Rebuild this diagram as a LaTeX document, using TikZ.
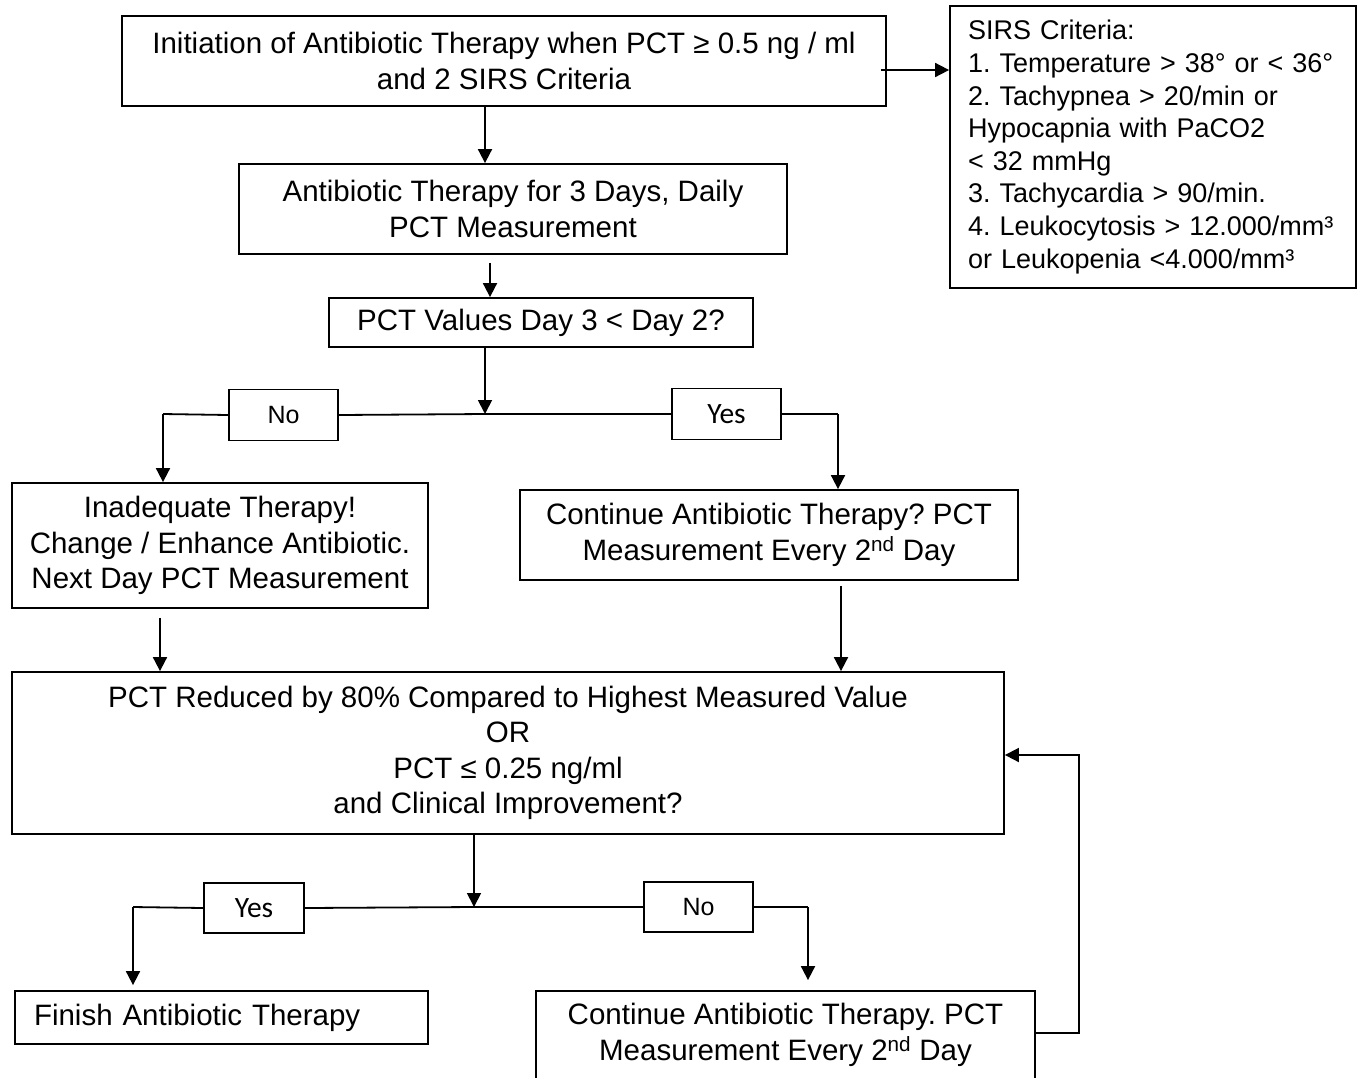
\documentclass[tikz,border=0pt]{standalone}
\usepackage{fontspec}
\setmainfont{Liberation Sans}
\newfontfamily\ynfont{Carlito}
\usetikzlibrary{arrows.meta}
\frenchspacing
\begin{document}
\begin{tikzpicture}[x=1pt,y=-1pt,
  box/.style={draw, line width=1.8pt, inner sep=0pt, align=center, font=\fontsize{29.5}{35.5}\selectfont},
  lab/.style={draw, line width=1.8pt, inner sep=0pt, font=\ynfont\fontsize{29.5}{30}\selectfont},
  labno/.style={draw, line width=1.8pt, inner sep=0pt, font=\fontsize{25}{30}\selectfont},
  arr/.style={line width=1.8pt, -{Triangle[width=14pt,length=14pt]}},
  ln/.style={line width=1.8pt}]
\useasboundingbox (0,0) rectangle (1362,1077);

\node[box, minimum width=764pt, minimum height=90pt] (top) at (504,61)
  {Initiation of Antibiotic Therapy when PCT ≥ 0.5 ng / ml\\and 2 SIRS Criteria};
\node[box, minimum width=406pt, minimum height=282pt, text width=370pt, inner xsep=18pt, align=left,
  font=\fontsize{27}{32.6}\selectfont] (sirs) at (1153,147)
  {SIRS Criteria:\\1. Temperature > 38° or < 36°\\2. Tachypnea > 20/min or\\Hypocapnia with PaCO2\\< 32 mmHg\\3. Tachycardia > 90/min.\\4. Leukocytosis > 12.000/mm³\\or Leukopenia <4.000/mm³};
\node[box, minimum width=548pt, minimum height=90pt] (b2) at (513,209)
  {Antibiotic Therapy for 3 Days, Daily\\PCT Measurement};
\node[box, minimum width=424pt, minimum height=49pt] (b4) at (541,322.5)
  {PCT Values Day 3 < Day 2?};
\node[labno, minimum width=109pt, minimum height=51pt] (no1) at (283.5,415) {No};
\node[lab, minimum width=109pt, minimum height=51pt] (yes1) at (726.5,414) {Yes};
\node[box, minimum width=416pt, minimum height=125pt] (left) at (220,545.5)
  {Inadequate Therapy!\\Change / Enhance Antibiotic.\\Next Day PCT Measurement};
\node[box, minimum width=498pt, minimum height=90pt] (right) at (769,535)
  {Continue Antibiotic Therapy? PCT\\Measurement Every 2\textsuperscript{nd} Day};
\node[box, minimum width=992pt, minimum height=162pt] (big) at (508,753)
  {PCT Reduced by 80\% Compared to Highest Measured Value\\OR\\PCT ≤ 0.25 ng/ml\\and Clinical Improvement?};
\node[lab, minimum width=100pt, minimum height=50pt] (yes2) at (254,908) {Yes};
\node[labno, minimum width=109pt, minimum height=50pt] (no2) at (698.5,907) {No};
\node[box, minimum width=413pt, minimum height=53pt, text width=375pt, inner xsep=19pt, align=left] (fin) at (221.5,1017.5)
  {Finish Antibiotic Therapy};
\node[box, minimum width=499pt, minimum height=88pt] (cont) at (785.5,1035)
  {Continue Antibiotic Therapy. PCT\\Measurement Every 2\textsuperscript{nd} Day};

\coordinate (j1) at (485,414);
\coordinate (L1) at (163,414);
\coordinate (R1) at (838,414);
\coordinate (j2) at (474,907);
\coordinate (L2) at (133,907);
\coordinate (R2) at (808,907);

\draw[arr] ([xshift=-6pt,yshift=-9pt]top.east) -- ([yshift=-9pt]top.east -| sirs.west);
\draw[arr] ([xshift=-19pt]top.south) -- ([xshift=-19pt]top.south |- b2.north);
\draw[arr] ([xshift=-23pt,yshift=-8pt]b2.south) -- ([xshift=-23pt]b2.south |- b4.north);
\draw[arr] ([xshift=-56pt]b4.south) -- (j1);
\draw[ln] (j1) -- (no1.east);
\draw[ln] (no1.west) -- (L1);
\draw[arr] (L1) -- (L1 |- left.north);
\draw[ln] (j1) -- (yes1.west);
\draw[ln] (yes1.east) -- (R1);
\draw[arr] (R1) -- (R1 |- right.north);
\draw[arr] ([xshift=-60pt,yshift=-9pt]left.south) -- ([xshift=-60pt]left.south |- big.north);
\draw[arr] ([xshift=72pt,yshift=-5pt]right.south) -- ([xshift=72pt]right.south |- big.north);
\draw[arr] ([xshift=-34pt]big.south) -- (j2);
\draw[ln] (j2) -- (yes2.east);
\draw[ln] (yes2.west) -- (L2);
\draw[arr, shorten >=5pt] (L2) -- (L2 |- fin.north);
\draw[ln] (j2) -- (no2.west);
\draw[ln] (no2.east) -- (R2);
\draw[arr, shorten >=10pt] (R2) -- (R2 |- cont.north);
\draw[arr] ([yshift=2pt]cont.east) -- ++(43,0) |- ([yshift=-2pt]big.east);
\end{tikzpicture}
\end{document}
